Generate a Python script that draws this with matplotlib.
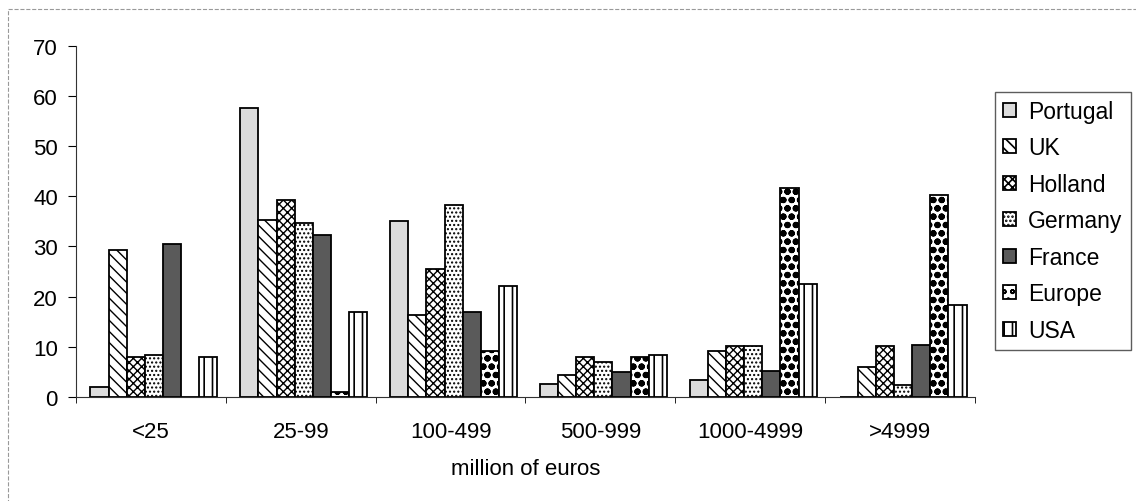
import matplotlib
matplotlib.use("Agg")
import matplotlib.pyplot as plt
from matplotlib.patches import Rectangle
import numpy as np

plt.rcParams['font.family'] = ['Liberation Sans', 'DejaVu Sans']
plt.rcParams['hatch.linewidth'] = 1.0

categories = ["<25", "25-99", "100-499", "500-999", "1000-4999", ">4999"]
series_names = ["Portugal", "UK", "Holland", "Germany", "France", "Europe", "USA"]
portugal = [2.0, 57.5, 35.0, 2.6, 3.3, 0.0]
uk = [29.3, 35.2, 16.3, 4.3, 9.1, 6.0]
holland = [7.9, 39.2, 25.6, 8.0, 10.1, 10.1]
germany = [8.3, 34.6, 38.2, 7.0, 10.1, 2.3]
france = [30.5, 32.3, 17.0, 5.0, 5.1, 10.4]
europe = [0.0, 1.0, 9.2, 8.0, 41.7, 40.3]
usa = [7.9, 17.0, 22.1, 8.3, 22.6, 18.3]
series = [portugal, uk, holland, germany, france, europe, usa]

styles = [
    dict(facecolor="#dcdcdc", hatch=None, hlw=1.0),
    dict(facecolor="white", hatch="\\\\\\", hlw=1.0),
    dict(facecolor="white", hatch="xxxx", hlw=1.0),
    dict(facecolor="white", hatch="....", hlw=1.0),
    dict(facecolor="#5a5a5a", hatch=None, hlw=1.0),
    dict(facecolor="white", hatch="oo", hlw=2.2),
    dict(facecolor="white", hatch="||", hlw=1.2),
]

W, H = 1136, 502
fig = plt.figure(figsize=(W / 100, H / 100), dpi=100)
ax = fig.add_axes([76 / W, 1 - 398 / H, (975 - 76) / W, (398 - 46.7) / H])

x = np.arange(len(categories))
bw = 0.121
handles = []
for i, (name, vals, st) in enumerate(zip(series_names, series, styles)):
    plt.rcParams['hatch.linewidth'] = st["hlw"]
    b = ax.bar(x + (i - 3) * bw + 0.02, vals, width=bw, facecolor=st["facecolor"],
               hatch=st["hatch"], edgecolor="black", linewidth=1.3, label=name)
    handles.append(b)

ax.set_xlim(-0.5, len(categories) - 0.5)
ax.set_ylim(0, 70)
ax.set_yticks(np.arange(0, 71, 10))
ax.set_xticks(x)
ax.set_xticklabels(categories)
ax.set_xticks(np.arange(-0.5, len(categories) - 0.4, 1), minor=True)
ax.tick_params(axis="x", which="major", length=0, pad=17, labelsize=16)
ax.tick_params(axis="x", which="minor", length=4, direction="out")
ax.tick_params(axis="y", length=6, direction="out", labelsize=16, pad=7)
ax.spines["top"].set_visible(False)
ax.spines["right"].set_visible(False)
ax.spines["left"].set_color("#333333")
ax.spines["bottom"].set_color("#333333")
ax.set_xlabel("million of euros", fontsize=16, labelpad=12)

leg = fig.legend(handles=handles, labels=series_names, loc="upper left",
                 bbox_to_anchor=(995 / W, 1 - 92.7 / H), frameon=True, fancybox=False,
                 fontsize=16.5, handlelength=0.55, handleheight=0.55, handletextpad=0.55,
                 labelspacing=0.59, borderpad=0.35, borderaxespad=0)
leg.get_frame().set_edgecolor("#333333")
leg.get_frame().set_linewidth(1.0)

# faint outer chart border
fig.add_artist(Rectangle((8 / W, -0.01), 1.2, 1 - 10 / H + 0.01, transform=fig.transFigure,
                         fill=False, edgecolor="#999999", linestyle="--", linewidth=0.8))

fig.savefig("out.png", dpi=100)
